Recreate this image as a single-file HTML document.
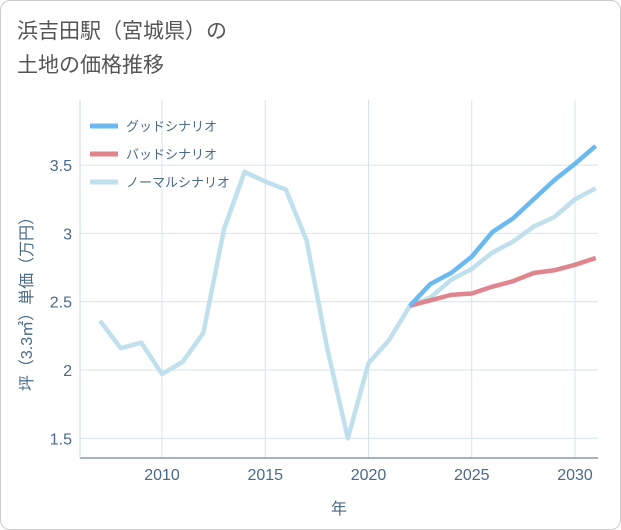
<!DOCTYPE html>
<html><head><meta charset="utf-8"><style>
body{margin:0;background:#fff;}
#wrap{position:relative;width:619px;height:528px;border:1px solid #ccc;border-radius:10px;background:#fff;overflow:hidden;font-family:"Liberation Sans","Noto Sans CJK JP",sans-serif;}
#title{position:absolute;left:16px;top:14px;font-size:21px;line-height:34px;color:#555;}
svg text{font-family:"Liberation Sans","Noto Sans CJK JP",sans-serif;}
</style></head><body>
<div id="wrap">
<div id="title">浜吉田駅（宮城県）の<br>土地の価格推移</div>
<svg id="chart" width="621" height="530" style="position:absolute;left:-1px;top:-1px"></svg>
</div>
<script>
const years=[2007,2008,2009,2010,2011,2012,2013,2014,2015,2016,2017,2018,2019,2020,2021,2022,2023,2024,2025,2026,2027,2028,2029,2030,2031];
const normalValues=[2.36,2.16,2.2,1.97,2.06,2.27,3.03,3.45,3.38,3.32,2.95,2.16,1.5,2.05,2.22,2.47,2.53,2.66,2.74,2.86,2.94,3.05,3.12,3.25,3.33];
const futureYears=[2022,2023,2024,2025,2026,2027,2028,2029,2030,2031];
const goodValues=[2.47,2.63,2.71,2.83,3.01,3.11,3.25,3.39,3.51,3.64];
const badValues=[2.47,2.51,2.55,2.56,2.61,2.65,2.71,2.73,2.77,2.82];
const xTicks=[2010,2015,2020,2025,2030];
const yTicks=[1.5,2,2.5,3,3.5];
const NS='http://www.w3.org/2000/svg';
const svg=document.getElementById('chart');
const L=80,R=598,T=100,B=458;
const x=v=>162+(v-2010)*20.65;
const y=v=>370-(v-2)*136.6;
function mk(t,a){const e=document.createElementNS(NS,t);for(const k in a)e.setAttribute(k,a[k]);svg.appendChild(e);return e;}
const bg=mk('rect',{x:L,y:T,width:R-L,height:B-T,fill:'#fff',stroke:'none'});


xTicks.forEach(t=>{
 const g=mk('line',{x1:x(t),x2:x(t),y1:T,y2:B,stroke:'#d4e4ee','stroke-width':1});
 
 
 const l=mk('text',{x:x(t),y:480,'text-anchor':'middle','font-size':16,fill:'#4a6a88'});l.textContent=t;
 
 
});
yTicks.forEach(t=>{
 const g=mk('line',{x1:L,x2:R,y1:y(t),y2:y(t),stroke:'#d4e4ee','stroke-width':1});
 
 
 const l=mk('text',{x:72,y:y(t)+6,'text-anchor':'end','font-size':16,fill:'#4a6a88'});l.textContent=t;
 
 
});
const ax=mk('line',{x1:L,x2:R,y1:B,y2:B,stroke:'#4a6a88','stroke-width':1});


const ay=mk('line',{x1:L,x2:L,y1:T,y2:B,stroke:'#c8d8e4','stroke-width':1});


function line(xs,vs,c,name){
 const p=mk('polyline',{points:xs.map((t,i)=>x(t)+','+y(vs[i])).join(' '),fill:'none',stroke:c,'stroke-width':4.5,'stroke-linejoin':'round'});
 
 
}
line(years,normalValues,'#bfe0ec','normal-scenario-line');
line(futureYears,badValues,'#e0848d','bad-scenario-line');
line(futureYears,goodValues,'#6ab9f0','good-scenario-line');
const leg=[['グッドシナリオ','#6ab9f0'],['バッドシナリオ','#e0848d'],['ノーマルシナリオ','#bfe0ec']];
leg.forEach((d,i)=>{
 const yy=126+i*28;
 const s=mk('line',{x1:90,x2:118,y1:yy,y2:yy,stroke:d[1],'stroke-width':5});
 
 
 const t=mk('text',{x:126,y:yy+5,'font-size':13,fill:'#4a6a88'});t.textContent=d[0];
 
 
});
const xt=mk('text',{x:339,y:514,'text-anchor':'middle','font-size':16,fill:'#4a6a88'});xt.textContent='年';


const yt=mk('text',{x:0,y:0,'text-anchor':'middle','font-size':16,fill:'#4a6a88',transform:'translate(32,300) rotate(-90)'});yt.textContent='坪（3.3㎡）単価（万円）';


</script>
</body></html>
